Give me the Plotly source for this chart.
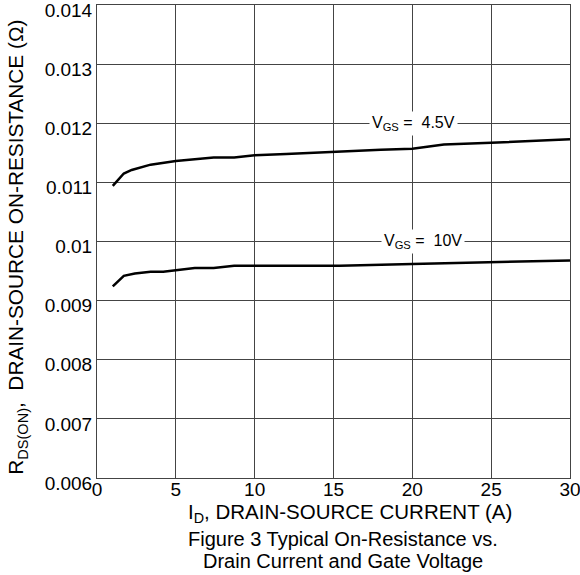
import plotly.graph_objects as go

# Data
id_45 = [1.0, 1.7, 2.2, 3.4, 5.0, 6.0, 7.4, 8.7, 10.0, 12.0, 15.0, 18.0, 20.0, 22.0, 25.0, 30.0]
r_45 = [0.01094, 0.01115, 0.01121, 0.01130, 0.01136, 0.01139, 0.01142, 0.01142,
        0.01146, 0.01148, 0.01152, 0.01155, 0.01157, 0.01164, 0.01167, 0.01173]
id_10 = [1.0, 1.7, 2.4, 3.4, 4.2, 5.3, 6.2, 7.4, 8.7, 12.0, 15.4, 20.0, 25.0, 30.0]
r_10 = [0.00924, 0.00942, 0.00946, 0.00949, 0.00949, 0.00953, 0.00955, 0.00955,
        0.00959, 0.00959, 0.00959, 0.00962, 0.00965, 0.00968]

x_ticks = [0, 5, 10, 15, 20, 25, 30]
y_ticks = [0.006, 0.007, 0.008, 0.009, 0.01, 0.011, 0.012, 0.013, 0.014]
y_tick_text = ["0.006", "0.007", "0.008", "0.009", "0.01", "0.011", "0.012", "0.013", "0.014"]

FONT = "Liberation Sans"

fig = go.Figure()
fig.add_trace(go.Scatter(x=id_45, y=r_45, mode="lines",
                         line=dict(color="black", width=2.5), showlegend=False))
fig.add_trace(go.Scatter(x=id_10, y=r_10, mode="lines",
                         line=dict(color="black", width=2.5), showlegend=False))

grid = "#444444"
fig.update_xaxes(range=[0, 30], tickvals=x_ticks, showgrid=True, gridcolor=grid, gridwidth=1,
                 showline=True, linecolor=grid, linewidth=1, mirror=True, zeroline=False,
                 ticks="", ticklabeloverflow="allow", ticklabelstandoff=-6, automargin=False,
                 tickfont=dict(family=FONT, size=19, color="black"))
fig.update_yaxes(range=[0.006, 0.014], tickvals=y_ticks, ticktext=y_tick_text,
                 showgrid=True, gridcolor=grid, gridwidth=1,
                 showline=True, linecolor=grid, linewidth=1, mirror=True, zeroline=False,
                 ticks="", ticklabeloverflow="allow", automargin=False, ticklabelshift=5,
                 tickfont=dict(family=FONT, size=19, color="black"))

annotations = [
    dict(x=20.1, y=0.012, xref="x", yref="y", text="V<sub>GS</sub> =  4.5V",
         showarrow=False, bgcolor="white", font=dict(family=FONT, size=16, color="black"),
         xanchor="center", yanchor="middle", borderpad=2),
    dict(x=20.7, y=0.010, xref="x", yref="y", text="V<sub>GS</sub> =  10V",
         showarrow=False, bgcolor="white", font=dict(family=FONT, size=16, color="black"),
         xanchor="center", yanchor="middle", borderpad=2),
    dict(x=0.535, y=-0.074, xref="paper", yref="paper",
         text="I<sub>D</sub>, DRAIN-SOURCE CURRENT (A)", showarrow=False,
         font=dict(family=FONT, size=20.5, color="black"), xanchor="center", yanchor="middle"),
    dict(x=0.52, y=-0.128, xref="paper", yref="paper",
         text="Figure 3 Typical On-Resistance vs.", showarrow=False,
         font=dict(family=FONT, size=20, color="black"), xanchor="center", yanchor="middle"),
    dict(x=0.52, y=-0.175, xref="paper", yref="paper",
         text="Drain Current and Gate Voltage", showarrow=False,
         font=dict(family=FONT, size=20, color="black"), xanchor="center", yanchor="middle"),
    dict(x=-0.168, y=0.488, xref="paper", yref="paper",
         text="R<sub>DS(ON)</sub>,  DRAIN-SOURCE ON-RESISTANCE (Ω)", showarrow=False,
         textangle=-90, font=dict(family=FONT, size=20.8, color="black"),
         xanchor="center", yanchor="middle"),
]

fig.update_layout(width=580, height=575, margin=dict(l=97, r=10, t=5, b=97),
                  plot_bgcolor="white", paper_bgcolor="white",
                  annotations=annotations, showlegend=False)

fig.write_html("out.html")
